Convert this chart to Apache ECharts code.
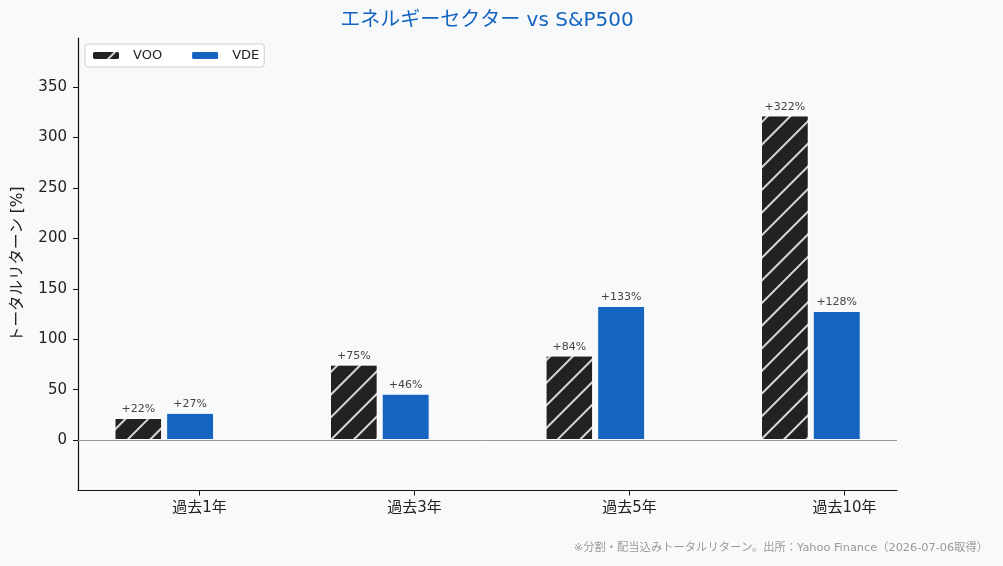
<!DOCTYPE html>
<html>
<head>
<meta charset="utf-8">
<script src="https://cdn.jsdelivr.net/npm/echarts@6/dist/echarts.min.js"></script>
<style>
  html, body { margin: 0; padding: 0; background: #f8f9fb; }
  #chart { width: 1003px; height: 566px; }
</style>
</head>
<body>
<div id="chart"></div>
<script>
const periods = ['過去1年', '過去3年', '過去5年', '過去10年'];
const vooReturns = [22, 75, 84, 322];
const vdeReturns = [27, 46, 133, 128];
const yTicks = [0, 50, 100, 150, 200, 250, 300, 350];

const font = '"DejaVu Sans", "Noto Sans CJK JP", sans-serif';
const chart = echarts.init(document.getElementById('chart'));

const toPoints = (vals) => vals.map((v, i) => [i, v]);
const pctLabel = {
  show: true,
  position: 'top',
  distance: 3,
  fontSize: 11,
  color: '#444',
  fontFamily: font,
  formatter: (p) => '+' + p.value[1] + '%'
};

const option = {
  backgroundColor: '#f8f9fb',
  animation: false,
  textStyle: { fontFamily: font },
  title: {
    text: 'エネルギーセクター vs S&P500',
    left: 482,
    textAlign: 'center',
    top: 6,
    textStyle: { color: '#1565c0', fontSize: 20, fontWeight: 'normal', fontFamily: font }
  },
  legend: {
    left: 85,
    top: 44,
    itemWidth: 28,
    itemHeight: 9,
    itemGap: 28,
    padding: [5, 5, 5, 6],
    backgroundColor: '#fff',
    borderColor: '#d0d0d0',
    borderWidth: 1,
    borderRadius: 3,
    textStyle: { fontSize: 13, color: '#222', fontFamily: font, padding: [0, 0, 0, 8] },
    data: ['VOO', 'VDE']
  },
  grid: [
    { left: 78, right: 106, top: 38, bottom: 75.5 },
    { left: 92, width: 860, top: 38, bottom: 75.5 }
  ],
  xAxis: [
    {
      type: 'value',
      gridIndex: 0,
      min: -0.4,
      max: 3.4,
      axisLine: { show: true, onZero: false, lineStyle: { color: '#111', width: 1.2 } },
      axisTick: { show: false },
      axisLabel: { show: false },
      splitLine: { show: false }
    },
    {
      type: 'category',
      gridIndex: 1,
      data: periods,
      boundaryGap: true,
      axisLine: { show: false, onZero: false },
      axisTick: { show: true, alignWithLabel: true, length: 5, lineStyle: { color: '#111' } },
      axisLabel: { fontSize: 15, color: '#222', margin: 10, fontFamily: font },
      splitLine: { show: false }
    }
  ],
  yAxis: [
    {
      type: 'value',
      gridIndex: 0,
      min: -50,
      max: 398.6,
      interval: 50,
      name: 'トータルリターン [%]',
      nameLocation: 'middle',
      nameGap: 52,
      nameTextStyle: { fontSize: 15.5, color: '#222', fontFamily: font },
      axisLine: { show: true, onZero: false, lineStyle: { color: '#111', width: 1.2 } },
      axisTick: { show: true, length: 5, lineStyle: { color: '#111' }, customValues: yTicks },
      axisLabel: { fontSize: 15, color: '#222', margin: 11, fontFamily: font, customValues: yTicks },
      splitLine: { show: false }
    },
    {
      type: 'value',
      gridIndex: 1,
      min: -50,
      max: 398.6,
      show: false
    }
  ],
  series: [
    {
      name: 'VOO',
      type: 'bar',
      xAxisIndex: 0,
      yAxisIndex: 0,
      data: toPoints(vooReturns),
      barWidth: 48,
      barGap: '8%',
      itemStyle: {
        color: '#222222',
        borderColor: '#ffffff',
        borderWidth: 1,
        decal: {
          symbol: 'rect',
          symbolSize: 1,
          color: 'rgba(235,235,235,0.9)',
          dashArrayX: [1, 0],
          dashArrayY: [2, 14],
          rotation: -Math.PI / 4
        }
      },
      label: pctLabel
    },
    {
      name: 'VDE',
      type: 'bar',
      xAxisIndex: 0,
      yAxisIndex: 0,
      data: toPoints(vdeReturns),
      barWidth: 48,
      barGap: '8%',
      itemStyle: { color: '#1565c0', borderColor: '#ffffff', borderWidth: 1 },
      label: pctLabel,
      markLine: {
        silent: true,
        symbol: 'none',
        label: { show: false },
        lineStyle: { color: '#999', width: 1, type: 'solid' },
        data: [{ yAxis: 0 }]
      }
    }
  ],
  graphic: [
    {
      type: 'text',
      right: 15,
      top: 542,
      style: {
        text: '※分割・配当込みトータルリターン。出所：Yahoo Finance（2026-07-06取得）',
        fontSize: 11.3,
        fill: '#999',
        fontFamily: font
      }
    }
  ]
};

chart.setOption(option);
</script>
</body>
</html>
